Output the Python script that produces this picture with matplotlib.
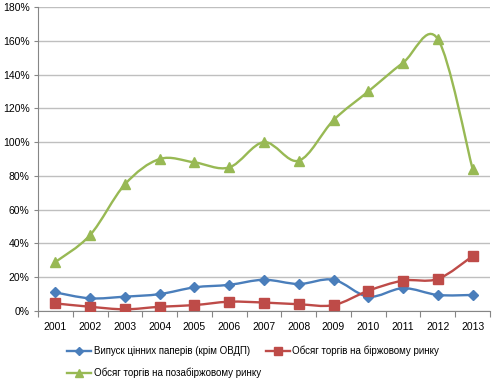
import numpy as np
import matplotlib.pyplot as plt
from matplotlib.path import Path
from matplotlib.patches import PathPatch
from matplotlib.lines import Line2D
from matplotlib.ticker import FuncFormatter, FixedLocator

years = ["2001", "2002", "2003", "2004", "2005", "2006", "2007",
         "2008", "2009", "2010", "2011", "2012", "2013"]
vypusk = [11, 7.5, 8.5, 10, 14, 15.5, 18.5, 16, 18.5, 8.5, 13.5, 9.5, 9.5]
birzha = [4.5, 2.5, 1, 2.5, 3.5, 5.5, 5, 4, 3.5, 12, 18, 19, 32.5]
pozabirzha = [29, 45, 75, 90, 88, 85, 100, 89, 113, 130, 147, 161, 84]

labels = ["Випуск цінних паперів (крім ОВДП)",
          "Обсяг торгів на біржовому ринку",
          "Обсяг торгів на позабіржовому ринку"]
colors = ["#4A7EBB", "#BE4B48", "#98B954"]
markers = ["D", "s", "^"]
msizes = [5.5, 6.5, 7]

plt.rcParams['font.family'] = ['Liberation Sans', 'DejaVu Sans']


def smooth_path(x, y):
    # excel-like smoothing: bezier with catmull-rom control points
    pts = np.column_stack([x, y]).astype(float)
    n = len(pts)
    verts = [pts[0]]
    codes = [Path.MOVETO]
    for i in range(n - 1):
        p0 = pts[i - 1] if i > 0 else pts[i]
        p1 = pts[i]
        p2 = pts[i + 1]
        p3 = pts[i + 2] if i + 2 < n else pts[i + 1]
        c1 = p1 + (p2 - p0) / 6.0
        c2 = p2 - (p3 - p1) / 6.0
        verts += [c1, c2, p2]
        codes += [Path.CURVE4] * 3
    return Path(verts, codes)


fig = plt.figure(figsize=(4.97, 3.80), dpi=100)
ax = fig.add_axes([38 / 497, 69 / 380, 452 / 497, 304 / 380])

x = np.arange(len(years))
handles = []
for vals, c, m, ms, lab in zip([vypusk, birzha, pozabirzha], colors, markers, msizes, labels):
    ax.add_patch(PathPatch(smooth_path(x, vals), facecolor="none",
                           edgecolor=c, lw=1.7, zorder=3))
    ax.plot(x, vals, linestyle="none", marker=m, color=c, markersize=ms, zorder=4)
    handles.append(Line2D([], [], color=c, lw=1.7, marker=m, markersize=ms - 1, label=lab))

ax.set_xlim(-0.5, len(years) - 0.5)
ax.set_ylim(0, 180)
ax.set_yticks(np.arange(0, 181, 20))
ax.yaxis.set_major_formatter(FuncFormatter(lambda v, p: f"{int(v)}%"))
ax.grid(axis="y", color="#BFBFBF", lw=1)
ax.set_axisbelow(True)

ax.xaxis.set_major_locator(FixedLocator(np.arange(-0.5, len(years), 1)))
ax.xaxis.set_major_formatter(FuncFormatter(lambda v, p: ""))
ax.set_xticks(x, minor=True)
ax.set_xticklabels(years, minor=True)
ax.tick_params(axis="x", which="minor", length=0, labelsize=7.5, pad=8)
ax.tick_params(axis="x", which="major", length=4, color="#868686", direction="out")
ax.tick_params(axis="y", length=3, color="#868686", labelsize=7.5, pad=3)

for s in ["top", "right"]:
    ax.spines[s].set_visible(False)
for s in ["left", "bottom"]:
    ax.spines[s].set_color("#868686")

leg_h = [handles[0], handles[2], handles[1]]
fig.legend(handles=leg_h, labels=[h.get_label() for h in leg_h], ncol=2,
           loc="upper left", bbox_to_anchor=(62 / 497, 1 - 341 / 380),
           frameon=False, fontsize=7, handlelength=2.5, handletextpad=0.25,
           columnspacing=0.5, labelspacing=1.15, borderpad=0)

fig.savefig("out.png", dpi=100)
